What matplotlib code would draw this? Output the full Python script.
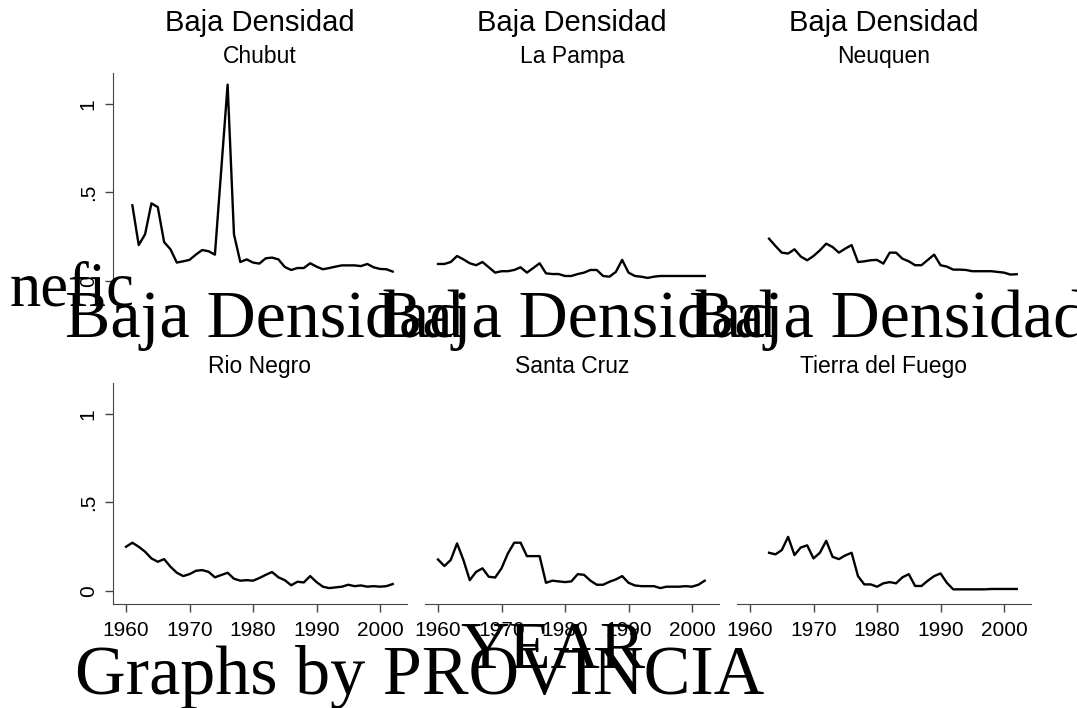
import matplotlib.pyplot as plt

W, H = 1077, 708

# data
chubut_years = list(range(1961, 2003))
chubut = [0.427, 0.202, 0.263, 0.438, 0.417, 0.219, 0.178, 0.103, 0.110, 0.118,
          0.148, 0.174, 0.167, 0.148, 0.63, 1.11, 0.263, 0.106, 0.121, 0.103,
          0.097, 0.127, 0.131, 0.121, 0.078, 0.061, 0.072, 0.072, 0.099, 0.080,
          0.065, 0.072, 0.080, 0.087, 0.087, 0.087, 0.083, 0.095, 0.076, 0.067,
          0.065, 0.052]

lapampa_years = list(range(1960, 2003))
lapampa = [0.095, 0.095, 0.106, 0.140, 0.121, 0.099, 0.088, 0.106, 0.076, 0.046,
           0.054, 0.054, 0.061, 0.076, 0.046, 0.072, 0.099, 0.042, 0.038, 0.038,
           0.027, 0.027, 0.038, 0.046, 0.061, 0.061, 0.027, 0.023, 0.050, 0.118,
           0.046, 0.027, 0.023, 0.016, 0.023, 0.027, 0.027, 0.027, 0.027, 0.027,
           0.027, 0.027, 0.027]

neuquen_years = list(range(1963, 2003))
neuquen = [0.238, 0.197, 0.159, 0.154, 0.178, 0.137, 0.116,
           0.140, 0.172, 0.210, 0.191, 0.159, 0.182, 0.202, 0.106, 0.110, 0.116,
           0.118, 0.097, 0.159, 0.159, 0.125, 0.110, 0.088, 0.088, 0.118, 0.148,
           0.088, 0.080, 0.063, 0.063, 0.061, 0.054, 0.054, 0.054, 0.054, 0.050,
           0.046, 0.035, 0.037]

rionegro_years = list(range(1960, 2003))
rionegro = [0.249, 0.272, 0.249, 0.221, 0.183, 0.164, 0.179, 0.136, 0.102, 0.083,
            0.094, 0.113, 0.117, 0.107, 0.076, 0.089, 0.102, 0.068, 0.057, 0.060,
            0.057, 0.072, 0.090, 0.106, 0.076, 0.060, 0.031, 0.051, 0.047, 0.083,
            0.049, 0.023, 0.015, 0.019, 0.023, 0.034, 0.026, 0.030, 0.023, 0.026,
            0.023, 0.026, 0.038]

santacruz_years = list(range(1960, 2003))
santacruz = [0.177, 0.140, 0.174, 0.268, 0.174, 0.060, 0.107, 0.127, 0.079, 0.075,
             0.127, 0.211, 0.272, 0.272, 0.196, 0.196, 0.196, 0.045, 0.057, 0.053,
             0.049, 0.053, 0.094, 0.090, 0.057, 0.034, 0.034, 0.051, 0.064, 0.083,
             0.045, 0.030, 0.026, 0.026, 0.026, 0.015, 0.023, 0.023, 0.023, 0.026,
             0.023, 0.034, 0.057]

tdf_years = list(range(1963, 2003))
tdf = [0.215, 0.206, 0.230, 0.305, 0.202, 0.245, 0.257,
       0.183, 0.215, 0.283, 0.192, 0.179, 0.200, 0.215, 0.083, 0.036, 0.036,
       0.023, 0.042, 0.049, 0.042, 0.076, 0.094, 0.027, 0.027, 0.057, 0.083,
       0.098, 0.045, 0.008, 0.008, 0.008, 0.008, 0.008, 0.008, 0.010, 0.010,
       0.010, 0.010, 0.010]

names = ["Chubut", "La Pampa", "Neuquen", "Rio Negro", "Santa Cruz", "Tierra del Fuego"]
series = [(chubut_years, chubut), (lapampa_years, lapampa), (neuquen_years, neuquen),
          (rionegro_years, rionegro), (santacruz_years, santacruz), (tdf_years, tdf)]
group = "Baja Densidad"
xticks = [1960, 1970, 1980, 1990, 2000]
yticks = [0, 0.5, 1]
ytick_labels = ["0", ".5", "1"]

sans = "Liberation Sans"
serif = "Liberation Serif"

fig = plt.figure(figsize=(W / 100, H / 100), dpi=100)
fig.patch.set_facecolor("white")

col_left = [113, 425, 737]
panel_w = 294
row_top = [73, 383]
panel_h = 221

for i, (name, (yrs, vals)) in enumerate(zip(names, series)):
    r, c = divmod(i, 3)
    left, top = col_left[c], row_top[r]
    ax = fig.add_axes([left / W, 1 - (top + panel_h) / H, panel_w / W, panel_h / H])
    ax.plot(yrs, vals, color="black", lw=1.7)
    ax.set_xlim(1957.95, 2004.25)
    ax.set_ylim(-0.075, 1.176)
    for s in ["top", "right"]:
        ax.spines[s].set_visible(False)
    ax.spines["left"].set_visible(c == 0)
    ax.spines["bottom"].set_visible(r == 1)
    ax.spines["left"].set_color("#444444")
    ax.spines["bottom"].set_color("#444444")
    if c == 0:
        ax.set_yticks(yticks)
        ax.set_yticklabels(ytick_labels, rotation=90, va="center",
                           fontsize=15, family=sans)
        ax.tick_params(axis="y", length=6, width=1, color="#444444", pad=5)
    else:
        ax.set_yticks([])
    if r == 1:
        ax.set_xticks(xticks)
        ax.set_xticklabels([str(t) for t in xticks], fontsize=15, family=sans)
        ax.tick_params(axis="x", length=6, width=1, color="#444444", pad=6)
    else:
        ax.set_xticks([])
    cx = (left + panel_w / 2) / W
    fig.text(cx, 1 - (top - 10) / H, name, ha="center", va="baseline",
             fontsize=16.5, family=sans)
    if r == 0:
        fig.text(cx, 1 - 31 / H, group, ha="center", va="baseline",
                 fontsize=21, family=sans)
    else:
        fig.text(cx + 4 / W, 1 - 337 / H, group, ha="center", va="baseline",
                 fontsize=49, family=serif, zorder=5)

fig.text(10 / W, 1 - 306 / H, "nefic", ha="left", va="baseline",
         fontsize=45, family=serif)
fig.text(553 / W, 1 - 668 / H, "YEAR", ha="center", va="baseline",
         fontsize=49, family=serif)
fig.text(75 / W, 1 - 694 / H, "Graphs by PROVINCIA", ha="left", va="baseline",
         fontsize=50.5, family=serif)

fig.savefig("out.png", dpi=100)
